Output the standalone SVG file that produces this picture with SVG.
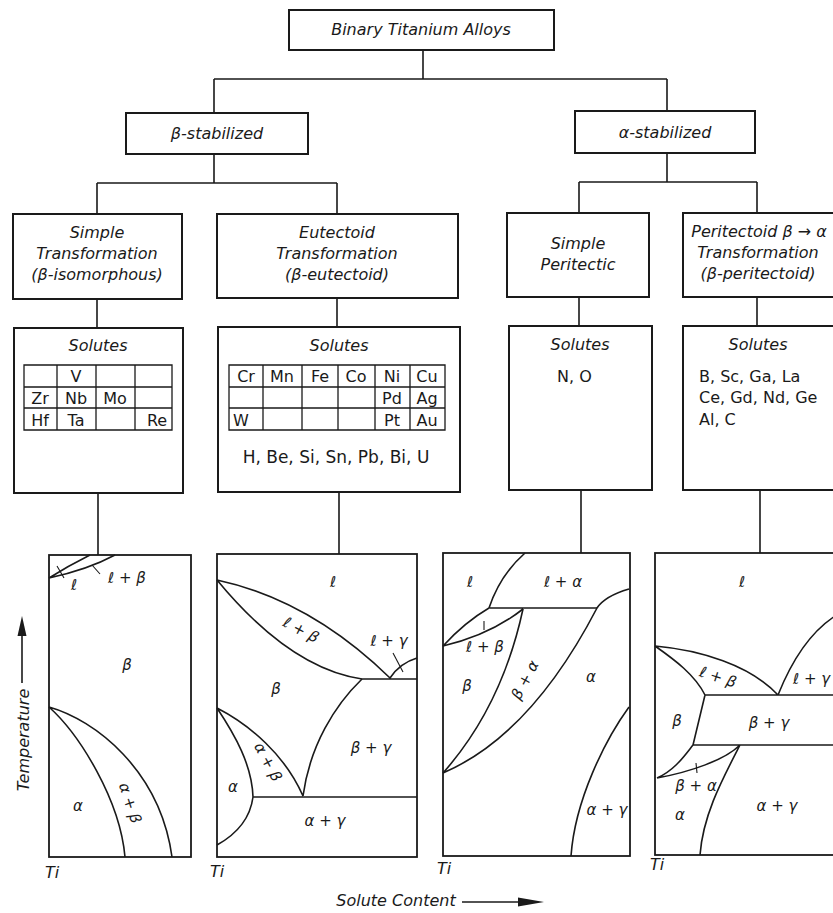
<svg xmlns="http://www.w3.org/2000/svg" width="833" height="913" viewBox="0 0 833 913">
<style>
.box{fill:#fff;stroke:#1a1a1a;stroke-width:2}
.ln{fill:none;stroke:#1a1a1a;stroke-width:1.6}
.tb{fill:none;stroke:#1a1a1a;stroke-width:1.3}
.cv{fill:none;stroke:#1a1a1a;stroke-width:1.6}
.it{font-family:"DejaVu Sans","Liberation Sans",sans-serif;font-style:italic;font-size:16px;fill:#1a1a1a;text-anchor:middle}
.rg{font-family:"DejaVu Sans","Liberation Sans",sans-serif;font-size:16px;fill:#1a1a1a}
.cell{font-family:"DejaVu Sans","Liberation Sans",sans-serif;font-size:16px;fill:#1a1a1a;text-anchor:middle}
.ph{font-family:"DejaVu Sans","Liberation Sans",sans-serif;font-style:italic;font-size:15px;fill:#1a1a1a;text-anchor:middle}
.ti{font-family:"DejaVu Sans","Liberation Sans",sans-serif;font-style:italic;font-size:16px;fill:#1a1a1a}
</style>
<rect width="833" height="913" fill="#fff"/>
<g id="connectors">
<path class="ln" d="M423,50V79M214,79H667M214,79V113M667,79V111"/>
<path class="ln" d="M214,154V183M97,183H337M97,183V214M337,183V214"/>
<path class="ln" d="M667,153V182M579,182H757M579,182V213M757,182V213"/>
<path class="ln" d="M97,299V328M337,298V327M579,297V326M757,297V326"/>
<path class="ln" d="M98,493V555M339,492V554M581,490V553M760,490V553"/>
</g>
<g id="root">
<rect class="box" x="289" y="10" width="265" height="40"/>
<text class="it" x="421" y="35">Binary Titanium Alloys</text>
</g>
<g id="beta-stabilized">
<rect class="box" x="126" y="113" width="182" height="41"/>
<text class="it" x="217" y="139">β-stabilized</text>
</g>
<g id="alpha-stabilized">
<rect class="box" x="575" y="111" width="180" height="42"/>
<text class="it" x="665" y="138">α-stabilized</text>
</g>
<g id="simple-transformation">
<rect class="box" x="13" y="214" width="169" height="85"/>
<text class="it" x="97" y="238">Simple</text>
<text class="it" x="97" y="259">Transformation</text>
<text class="it" x="97" y="280">(β-isomorphous)</text>
</g>
<g id="eutectoid-transformation">
<rect class="box" x="217" y="214" width="241" height="84"/>
<text class="it" x="337" y="238">Eutectoid</text>
<text class="it" x="337" y="259">Transformation</text>
<text class="it" x="337" y="280">(β-eutectoid)</text>
</g>
<g id="simple-peritectic">
<rect class="box" x="507" y="213" width="142" height="84"/>
<text class="it" x="578" y="249">Simple</text>
<text class="it" x="578" y="270">Peritectic</text>
</g>
<g id="peritectoid-transformation">
<rect class="box" x="683" y="213" width="160" height="84"/>
<text class="it" x="759" y="237">Peritectoid β → α</text>
<text class="it" x="758" y="258">Transformation</text>
<text class="it" x="758" y="279">(β-peritectoid)</text>
</g>
<g id="solutes-isomorphous">
<rect class="box" x="14" y="328" width="169" height="165"/>
<text class="it" x="98" y="351">Solutes</text>
<path class="tb" d="M24,365H172V430H24ZM24,387H172M24,408H172M57,365V430M96,365V430M135,365V430"/>
<text class="cell" x="76" y="382">V</text>
<text class="cell" x="40" y="404">Zr</text>
<text class="cell" x="76" y="404">Nb</text>
<text class="cell" x="115" y="404">Mo</text>
<text class="cell" x="40" y="426">Hf</text>
<text class="cell" x="76" y="426">Ta</text>
<text class="cell" x="157" y="426">Re</text>
</g>
<g id="solutes-eutectoid">
<rect class="box" x="218" y="327" width="242" height="165"/>
<text class="it" x="339" y="351">Solutes</text>
<path class="tb" d="M229,365H445V430H229ZM229,387H445M229,408H445M263,365V430M302,365V430M338,365V430M375,365V430M410,365V430"/>
<text class="cell" x="246" y="382">Cr</text>
<text class="cell" x="282" y="382">Mn</text>
<text class="cell" x="320" y="382">Fe</text>
<text class="cell" x="356" y="382">Co</text>
<text class="cell" x="392" y="382">Ni</text>
<text class="cell" x="427" y="382">Cu</text>
<text class="cell" x="392" y="404">Pd</text>
<text class="cell" x="427" y="404">Ag</text>
<text class="cell" x="241" y="426">W</text>
<text class="cell" x="392" y="426">Pt</text>
<text class="cell" x="427" y="426">Au</text>
<text class="cell" x="336" y="463" style="font-size:17px">H, Be, Si, Sn, Pb, Bi, U</text>
</g>
<g id="solutes-peritectic">
<rect class="box" x="509" y="326" width="143" height="164"/>
<text class="it" x="580" y="350">Solutes</text>
<text class="rg" x="557" y="382">N, O</text>
</g>
<g id="solutes-peritectoid">
<rect class="box" x="683" y="326" width="160" height="164"/>
<text class="it" x="758" y="350">Solutes</text>
<text class="rg" x="699" y="382">B, Sc, Ga, La</text>
<text class="rg" x="699" y="403">Ce, Gd, Nd, Ge</text>
<text class="rg" x="699" y="425">Al, C</text>
</g>
<g id="diagram-isomorphous">
<rect class="box" x="49" y="555" width="142" height="302" style="stroke-width:1.8"/>
<path class="cv" d="M49,578Q68,566 90,555M49,578Q88,569.5 115,555"/>
<path class="cv" d="M57,566L64,578M92,565L100,574" style="stroke-width:1.1"/>
<path class="cv" d="M49,707C80,735 120,800 125,857M49,707C95,720 160,770 172,857"/>
<text class="ph" x="74" y="590">ℓ</text>
<text class="ph" x="127" y="583">ℓ + β</text>
<text class="ph" x="127" y="670">β</text>
<text class="ph" x="78" y="811">α</text>
<text class="ph" transform="translate(130,803) rotate(72)" y="5">α + β</text>
</g>
<g id="diagram-eutectoid">
<rect class="box" x="217" y="554" width="200" height="303" style="stroke-width:1.8"/>
<path class="cv" d="M217,580Q310,600 390,678M217,580C250,620 300,670 362,679M362,679H417M390,678Q400,663 417,658"/>
<path class="cv" d="M393,653L403,672" style="stroke-width:1.1"/>
<path class="cv" d="M362,679C335,705 310,745 303,796M217,708C250,725 285,755 303,796M217,708C235,735 252,765 253,797M253,797C250,820 235,835 217,845M253,797H417"/>
<text class="ph" x="333" y="587">ℓ</text>
<text class="ph" x="389" y="646">ℓ + γ</text>
<text class="ph" transform="translate(301,630) rotate(28)" y="5">ℓ + β</text>
<text class="ph" x="276" y="694">β</text>
<text class="ph" x="371" y="753">β + γ</text>
<text class="ph" x="233" y="792">α</text>
<text class="ph" transform="translate(268,762) rotate(62)" y="5">α + β</text>
<text class="ph" x="325" y="826">α + γ</text>
</g>
<g id="diagram-peritectic">
<rect class="box" x="443" y="553" width="187" height="303" style="stroke-width:1.8"/>
<path class="cv" d="M525,553Q500,575 489,608M489,608H597M443,646Q465,622 489,608M443,646Q490,635 523,609"/>
<path class="cv" d="M484,621V630" style="stroke-width:1.1"/>
<path class="cv" d="M523,609C512,660 490,720 443,773M629,589Q605,596 597,608C570,660 520,740 443,773M629,707C605,740 575,800 571,856"/>
<text class="ph" x="470" y="587">ℓ</text>
<text class="ph" x="563" y="587">ℓ + α</text>
<text class="ph" x="485" y="652">ℓ + β</text>
<text class="ph" x="467" y="691">β</text>
<text class="ph" transform="translate(525,680) rotate(-62)" y="5">β + α</text>
<text class="ph" x="591" y="682">α</text>
<text class="ph" x="607" y="815">α + γ</text>
</g>
<g id="diagram-peritectoid">
<rect class="box" x="655" y="553" width="190" height="302" style="stroke-width:1.8"/>
<path class="cv" d="M655,646C700,650 750,665 778,695M655,646C675,660 695,675 705,695M705,695H845M705,695L693,745M693,745H845M693,745C685,755 675,770 657,778M657,778C690,772 725,760 740,745M740,745C722,780 703,815 700,855M778,695C790,665 810,630 840,613"/>
<path class="cv" d="M696,763L697,773" style="stroke-width:1.1"/>
<text class="ph" x="742" y="587">ℓ</text>
<text class="ph" transform="translate(718,677) rotate(18)" y="5">ℓ + β</text>
<text class="ph" x="793" y="684" style="text-anchor:start">ℓ + γ</text>
<text class="ph" x="677" y="726">β</text>
<text class="ph" x="769" y="728">β + γ</text>
<text class="ph" x="696" y="791">β + α</text>
<text class="ph" x="680" y="820">α</text>
<text class="ph" x="777" y="811">α + γ</text>
</g>
<g id="axes">
<text class="ti" x="45" y="878">Ti</text>
<text class="ti" x="210" y="877">Ti</text>
<text class="ti" x="437" y="874">Ti</text>
<text class="ti" x="650" y="870">Ti</text>
<text class="it" x="396" y="906">Solute Content</text>
<path class="ln" d="M462,902H522"/>
<polygon points="544,902 518,897.5 518,906.5" fill="#1a1a1a"/>
<text class="it" transform="translate(29,740) rotate(-90)">Temperature</text>
<path class="ln" d="M22,683V632"/>
<polygon points="22,616 17.5,636 26.5,636" fill="#1a1a1a"/>
</g>
</svg>
